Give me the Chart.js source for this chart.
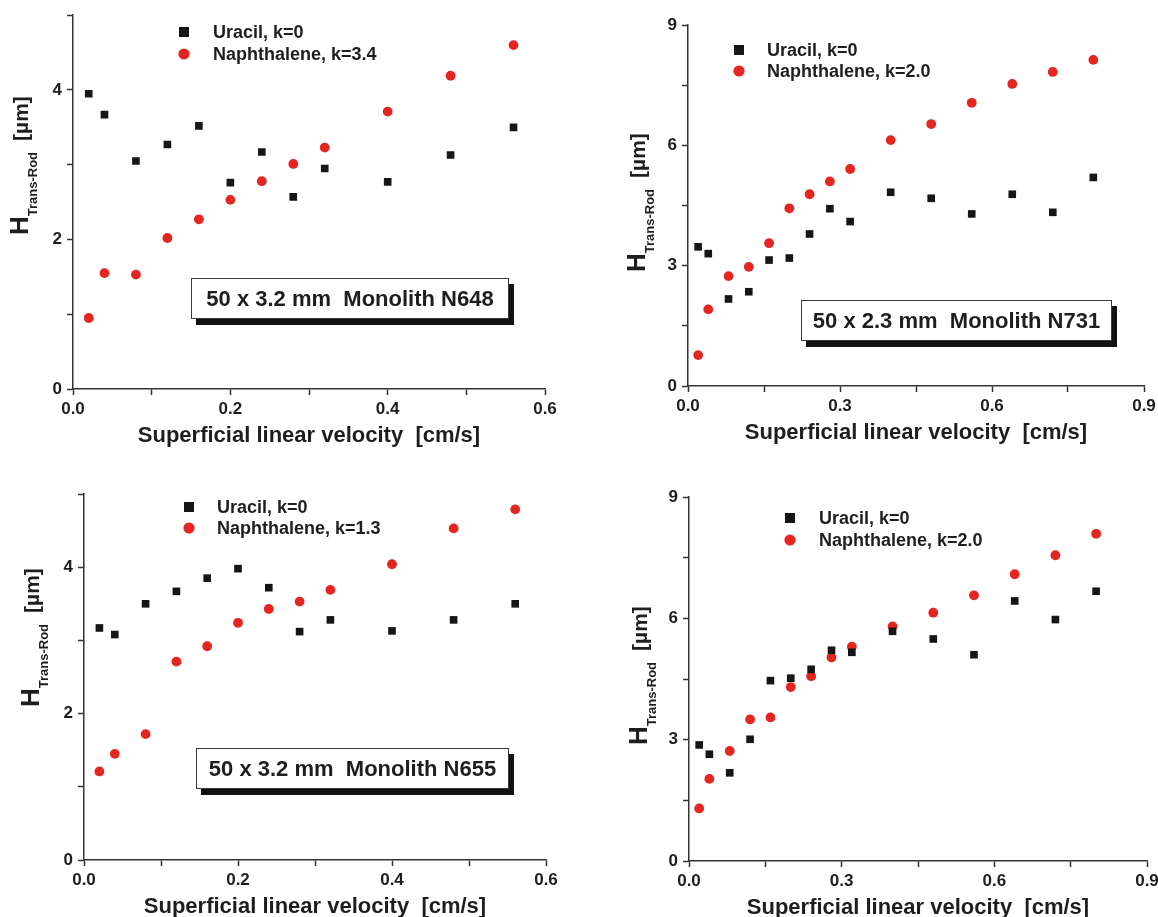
<!DOCTYPE html>
<html>
<head>
<meta charset="utf-8">
<script src="https://cdn.jsdelivr.net/npm/chart.js@4.4.0/dist/chart.umd.min.js"></script>
<style>
html, body { margin: 0; padding: 0; background: #fff; }
body { width: 1158px; height: 917px; position: relative; overflow: hidden; }
canvas { position: absolute; }
</style>
</head>
<body>
<canvas id="c1"></canvas>
<canvas id="c2"></canvas>
<canvas id="c3"></canvas>
<canvas id="c4"></canvas>
<script>
// ---------------- data ----------------
const velA = [0.02, 0.04, 0.08, 0.12, 0.16, 0.20, 0.24, 0.28, 0.32, 0.40, 0.48, 0.56];
const velB = [0.02, 0.04, 0.08, 0.12, 0.16, 0.20, 0.24, 0.28, 0.32, 0.40, 0.48, 0.56, 0.64, 0.72, 0.80];

const uracilN648 = [3.95, 3.67, 3.05, 3.27, 3.52, 2.76, 3.17, 2.57, 2.95, 2.77, 3.13, 3.50];
const naphN648   = [0.95, 1.55, 1.53, 2.02, 2.27, 2.53, 2.78, 3.01, 3.23, 3.71, 4.19, 4.60];

const uracilN731 = [3.47, 3.30, 2.17, 2.35, 3.14, 3.19, 3.79, 4.42, 4.10, 4.83, 4.68, 4.29, 4.78, 4.33, 5.20];
const naphN731   = [0.77, 1.91, 2.74, 2.97, 3.56, 4.43, 4.78, 5.10, 5.41, 6.13, 6.53, 7.06, 7.53, 7.83, 8.13];

const uracilN655 = [3.17, 3.08, 3.50, 3.67, 3.85, 3.98, 3.72, 3.12, 3.28, 3.13, 3.28, 3.50];
const naphN655   = [1.21, 1.45, 1.72, 2.71, 2.92, 3.24, 3.43, 3.53, 3.69, 4.04, 4.53, 4.79];

const uracilP4 = [2.87, 2.64, 2.18, 3.01, 4.46, 4.52, 4.74, 5.21, 5.16, 5.68, 5.49, 5.10, 6.43, 5.97, 6.67];
const naphP4   = [1.30, 2.03, 2.72, 3.50, 3.55, 4.30, 4.57, 5.03, 5.30, 5.80, 6.14, 6.57, 7.09, 7.56, 8.09];

const xTicksA = [0, 0.1, 0.2, 0.3, 0.4, 0.5, 0.6];
const xLabelsA = ['0.0', '', '0.2', '', '0.4', '', '0.6'];
const xTicksB = [0, 0.15, 0.3, 0.45, 0.6, 0.75, 0.9];
const xLabelsB = ['0.0', '', '0.3', '', '0.6', '', '0.9'];
const yTicksA = [0, 1, 2, 3, 4, 5];
const yLabelsA = ['0', '', '2', '', '4', ''];
const yTicksB = [0, 1.5, 3, 4.5, 6, 7.5, 9];
const yLabelsB = ['0', '', '3', '', '6', '', '9'];

const uracilLabel = 'Uracil, k=0';
const naphLabels = ['Naphthalene, k=3.4', 'Naphthalene, k=2.0', 'Naphthalene, k=1.3', 'Naphthalene, k=2.0'];
const boxTexts = ['50 x 3.2 mm  Monolith N648', '50 x 2.3 mm  Monolith N731', '50 x 3.2 mm  Monolith N655', null];
const xTitle = 'Superficial linear velocity  [cm/s]';
const yTitleMain = 'H';
const yTitleSub = 'Trans-Rod';
const yTitleUnit = '[\u00B5m]';

// ---------------- style / layout ----------------
const FAM = "'Liberation Sans', Arial, Helvetica, sans-serif";
const TXT = '#1e1e1e';
const AX = '#333333';
const RED = '#e5251f';
const BLK = '#161616';

const panels = [
  { id: 'c1', cx: 0, cy: 0, cw: 579, ch: 460, L: 73, T: 15, R: 545, B: 389,
    vel: velA, ur: uracilN648, na: naphN648, xmax: 0.6, ymax: 5,
    xt: xTicksA, xl: xLabelsA, yt: yTicksA, yl: yLabelsA,
    leg: { mx: 184, tx: 213, y: [32, 54] }, yTitle: { x: 28, y: 235 },
    box: { x: 191, y: 278, w: 318, h: 41 }, text: boxTexts[0], naphLabel: naphLabels[0] },
  { id: 'c2', cx: 579, cy: 0, cw: 600, ch: 460, L: 688, T: 25, R: 1144, B: 386,
    vel: velB, ur: uracilN731, na: naphN731, xmax: 0.9, ymax: 9,
    xt: xTicksB, xl: xLabelsB, yt: yTicksB, yl: yLabelsB,
    leg: { mx: 739, tx: 767, y: [50, 71] }, yTitle: { x: 645, y: 272 },
    box: { x: 801, y: 300, w: 311, h: 41 }, text: boxTexts[1], naphLabel: naphLabels[1] },
  { id: 'c3', cx: 0, cy: 460, cw: 579, ch: 457, L: 84, T: 494, R: 546, B: 860,
    vel: velA, ur: uracilN655, na: naphN655, xmax: 0.6, ymax: 5,
    xt: xTicksA, xl: xLabelsA, yt: yTicksA, yl: yLabelsA,
    leg: { mx: 189, tx: 217, y: [507, 528] }, yTitle: { x: 39, y: 707 },
    box: { x: 196, y: 748, w: 313, h: 41 }, text: boxTexts[2], naphLabel: naphLabels[2] },
  { id: 'c4', cx: 579, cy: 460, cw: 600, ch: 457, L: 689, T: 497, R: 1147, B: 861,
    vel: velB, ur: uracilP4, na: naphP4, xmax: 0.9, ymax: 9,
    xt: xTicksB, xl: xLabelsB, yt: yTicksB, yl: yLabelsB,
    leg: { mx: 790, tx: 819, y: [518, 540] }, yTitle: { x: 647, y: 745 },
    box: null, text: boxTexts[3], naphLabel: naphLabels[3] }
];

function labelFor(ticks, labels, v) {
  for (let i = 0; i < ticks.length; i++) if (Math.abs(ticks[i] - v) < 1e-6) return labels[i];
  return '';
}

function decoPlugin(p) {
  return {
    id: 'deco_' + p.id,
    afterDraw(chart) {
      const ctx = chart.ctx;
      ctx.save();
      // legend
      chart.data.datasets.forEach((ds, i) => {
        const y = p.leg.y[i] - p.cy;
        const mx = p.leg.mx - p.cx;
        ctx.fillStyle = ds.backgroundColor;
        if (ds.pointStyle === 'rect') {
          ctx.fillRect(mx - 5, y - 5, 10, 10);
        } else {
          ctx.beginPath(); ctx.arc(mx, y, 5.6, 0, Math.PI * 2); ctx.fill();
        }
        ctx.fillStyle = TXT;
        ctx.font = 'bold 18px ' + FAM;
        ctx.textAlign = 'left';
        ctx.textBaseline = 'middle';
        ctx.fillText(ds.label, p.leg.tx - p.cx, y + 1);
      });
      // text box
      if (p.box && p.text) {
        const bx = p.box.x - p.cx, by = p.box.y - p.cy, bw = p.box.w, bh = p.box.h;
        ctx.fillStyle = '#121212';
        ctx.fillRect(bx + 5, by + 6, bw, bh);
        ctx.fillStyle = '#ffffff';
        ctx.fillRect(bx, by, bw, bh);
        ctx.strokeStyle = '#3a3a3a';
        ctx.lineWidth = 1;
        ctx.strokeRect(bx + 0.5, by + 0.5, bw - 1, bh - 1);
        ctx.fillStyle = TXT;
        ctx.font = 'bold 22px ' + FAM;
        ctx.textAlign = 'center';
        ctx.textBaseline = 'middle';
        ctx.fillText(p.text, bx + bw / 2, by + bh / 2 + 1);
      }
      // y title with subscript
      ctx.translate(p.yTitle.x - p.cx, p.yTitle.y - p.cy);
      ctx.rotate(-Math.PI / 2);
      ctx.fillStyle = TXT;
      ctx.textAlign = 'left';
      ctx.textBaseline = 'alphabetic';
      ctx.font = 'bold 26px ' + FAM;
      ctx.fillText(yTitleMain, 0, 0);
      let w = ctx.measureText(yTitleMain).width;
      ctx.font = 'bold 13px ' + FAM;
      ctx.fillText(yTitleSub, w, 9);
      w += ctx.measureText(yTitleSub).width + 11;
      ctx.font = 'bold 21px ' + FAM;
      ctx.fillText(yTitleUnit, w, 0);
      ctx.restore();
    }
  };
}

panels.forEach(p => {
  const cv = document.getElementById(p.id);
  cv.width = p.cw; cv.height = p.ch;
  cv.style.left = p.cx + 'px'; cv.style.top = p.cy + 'px';
  cv.style.width = p.cw + 'px'; cv.style.height = p.ch + 'px';

  const xAxisH = p.ch - (p.B - p.cy);
  const titleLH = 22 * 1.2;
  const titlePadBottom = p.ch - titleLH / 2 - (p.B - p.cy + 47);

  const tickFont = { family: FAM, size: 17, weight: 'bold' };

  new Chart(cv, {
    type: 'scatter',
    data: {
      datasets: [
        { label: uracilLabel, data: p.vel.map((v, i) => ({ x: v, y: p.ur[i] })),
          pointStyle: 'rect', pointRadius: 5.4, pointHoverRadius: 5.4,
          backgroundColor: BLK, borderColor: BLK, borderWidth: 0 },
        { label: p.naphLabel, data: p.vel.map((v, i) => ({ x: v, y: p.na[i] })),
          pointStyle: 'circle', pointRadius: 4.9, pointHoverRadius: 4.9,
          backgroundColor: RED, borderColor: RED, borderWidth: 0 }
      ]
    },
    options: {
      responsive: false,
      animation: false,
      devicePixelRatio: 1,
      layout: { padding: { left: 0, top: p.T - p.cy, right: p.cx + p.cw - p.R, bottom: 0 } },
      plugins: { legend: { display: false }, tooltip: { enabled: false } },
      scales: {
        x: {
          type: 'linear', min: 0, max: p.xmax,
          afterBuildTicks: s => { s.ticks = p.xt.map(v => ({ value: v })); },
          afterFit: s => { s.height = xAxisH; },
          ticks: { autoSkip: false, maxRotation: 0, minRotation: 0, padding: 4, color: TXT, font: tickFont,
                   callback: v => labelFor(p.xt, p.xl, v) },
          grid: { display: true, drawOnChartArea: false, drawTicks: true, tickLength: 6, tickColor: AX, tickWidth: 1.5 },
          border: { display: true, color: AX, width: 1.5 },
          title: { display: true, text: xTitle, color: TXT, font: { family: FAM, size: 22, weight: 'bold' },
                   padding: { top: 0, bottom: titlePadBottom } }
        },
        y: {
          type: 'linear', min: 0, max: p.ymax,
          afterBuildTicks: s => { s.ticks = p.yt.map(v => ({ value: v })); },
          afterFit: s => { s.width = p.L - p.cx; },
          ticks: { autoSkip: false, padding: 5, color: TXT, font: tickFont,
                   callback: v => labelFor(p.yt, p.yl, v) },
          grid: { display: true, drawOnChartArea: false, drawTicks: true, tickLength: 6, tickColor: AX, tickWidth: 1.5 },
          border: { display: true, color: AX, width: 1.5 }
        }
      }
    },
    plugins: [decoPlugin(p)]
  });
});
</script>
</body>
</html>
